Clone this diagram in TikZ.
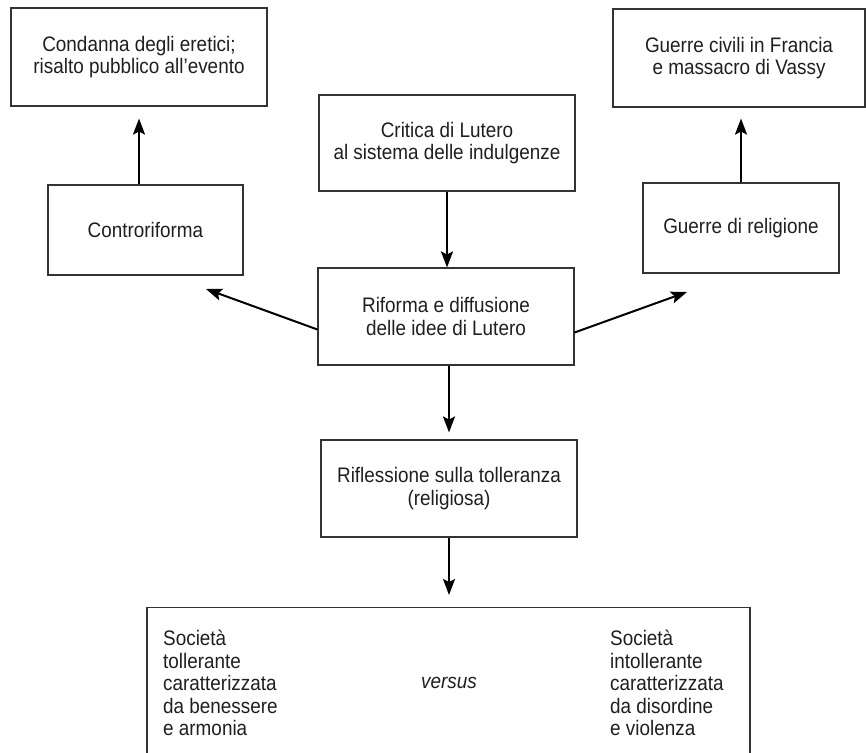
\documentclass[tikz,border=0pt]{standalone}
\usepackage{fontspec}
\setmainfont{Liberation Sans}[FakeStretch=0.9]
\usetikzlibrary{arrows.meta}
\definecolor{BoxGray}{gray}{0.2}
\definecolor{TextGray}{gray}{0.12}

\begin{document}
\begin{tikzpicture}[>={Stealth[length=16pt, width=12pt, inset=3pt]}, x=1pt, y=-1pt,
        box/.style={draw=BoxGray, line width=1.1pt, inner sep=0pt, align=center,
            text=TextGray, font=\fontsize{21}{22.5}\selectfont},
        txt/.style={inner sep=0pt, align=left, text=TextGray, font=\fontsize{21}{22.5}\selectfont},
        arr/.style={->, line width=2pt, black}]
        \useasboundingbox (0,0) rectangle (866,752);
        \clip (0,0) rectangle (866,752);

        % Top row
        \node [box, minimum width=256pt, minimum height=98pt] (condanna) at (139,57)
            {Condanna degli eretici;\\risalto pubblico all’evento};
        \node [box, minimum width=252pt, minimum height=98pt] (guerrecivili) at (739,58)
            {Guerre civili in Francia\\e massacro di Vassy};
        \node [box, minimum width=256pt, minimum height=96pt] (critica) at (447,143)
            {Critica di Lutero\\al sistema delle indulgenze};

        % Middle row
        \node [box, minimum width=195pt, minimum height=90pt] (contro) at (145.5,230) {Controriforma};
        \node [box, minimum width=196pt, minimum height=90pt] (guerrerel) at (741,228) {Guerre di religione};
        \node [box, minimum width=256pt, minimum height=97pt] (riforma) at (446,316.5)
            {Riforma e diffusione\\delle idee di Lutero};
        \node [box, minimum width=256pt, minimum height=97pt] (riflessione) at (449,488.5)
            {Riflessione sulla tolleranza\\(religiosa)};

        % Bottom box, cut by the page edge
        \node [box, minimum width=603pt, minimum height=190pt, anchor=north] (societa) at (448.5,607) {};
        \node [txt, anchor=west] (tollerante) at (163,683)
            {Società\\tollerante\\caratterizzata\\da benessere\\e armonia};
        \node [txt, anchor=west] (intollerante) at (610,683)
            {Società\\intollerante\\caratterizzata\\da disordine\\e violenza};
        \node [txt, font=\fontsize{21}{22.5}\selectfont\itshape] (versus) at (449,683) {versus};

        % Arrows
        \coordinate (tipsx) at (206,289);
        \coordinate (tipdx) at (687,292);
        \draw [arr, shorten >=12pt] (condanna.south |- contro.north) -- (condanna.south);
        \draw [arr, shorten >=11pt] (guerrerel.north) -- (guerrecivili.south -| guerrerel.north);
        \draw [arr] (critica.south) -- (critica.south |- riforma.north);
        \draw [arr, shorten >=7pt] (riforma.south -| riflessione.north) -- (riflessione.north);
        \draw [arr, shorten >=12pt] (riflessione.south) -- (riflessione.south |- societa.north);
        \draw [arr] ([yshift=-13pt]riforma.west) -- (tipsx);
        \draw [arr] ([yshift=-16pt]riforma.east) -- (tipdx);
\end{tikzpicture}
\end{document}
